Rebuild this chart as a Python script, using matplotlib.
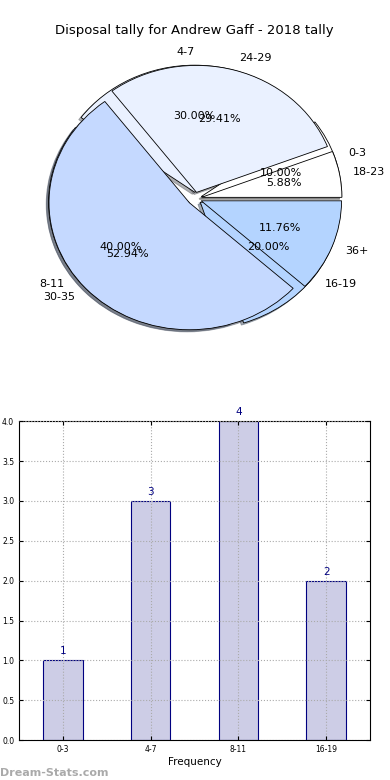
# Disposal tally pie (two seasons overlaid) + frequency bar chart
import matplotlib
matplotlib.use('Agg')
import matplotlib.pyplot as plt

# data
labels_a = ['0-3', '4-7', '8-11', '16-19']
counts_a = [1, 3, 4, 2]
labels_b = ['18-23', '24-29', '30-35', '36+']
counts_b = [1, 5, 9, 2]
bar_labels = ['0-3', '4-7', '8-11', '16-19']
bar_values = [1, 3, 4, 2]

colors = ['#ffffff', '#eaf1ff', '#c5d9ff', '#b4d4ff']
explode = [0.05, 0.05, 0.05, 0.05]

fig = plt.figure(figsize=(3.9, 7.8), dpi=100)

# pie panel
ax1 = fig.add_axes([0.049, 0.542, 0.9, 0.407])
for labs, vals in [(labels_a, counts_a), (labels_b, counts_b)]:
    wedges, texts, autotexts = ax1.pie(vals, labels=labs, colors=colors, explode=explode,
                                       autopct='%1.2f%%', startangle=0,
                                       shadow={'ox': -0.012, 'oy': -0.012, 'shade': 0.6},
                                       wedgeprops=dict(edgecolor='black', linewidth=0.6))
    for t in texts + autotexts:
        t.set_fontsize(8)
ax1.set_aspect('auto')
ax1.set_xlim(-1.25, 1.25)
ax1.set_ylim(-1.25, 1.25)
ax1.set_title('Disposal tally for Andrew Gaff - 2018 tally', fontsize=9.5, pad=4)

# bar panel
ax2 = fig.add_axes([0.049, 0.051, 0.9, 0.409])
x = list(range(len(bar_labels)))
bars = ax2.bar(x, bar_values, width=0.45, color='#cdcde6', edgecolor='#000080', linewidth=0.8)
for xi, v in zip(x, bar_values):
    ax2.text(xi, v + 0.05, str(v), ha='center', va='bottom', color='#000080', fontsize=7.5)
ax2.set_xlim(-0.5, 3.5)
ax2.set_ylim(0, 4)
ax2.set_yticks([0, 0.5, 1, 1.5, 2, 2.5, 3, 3.5, 4])
ax2.set_xticks(x)
ax2.set_xticklabels(bar_labels)
ax2.tick_params(labelsize=5.5, direction='in', top=True, right=True, length=3)
ax2.grid(True, ls=':', color='#aaaaaa', lw=0.8)
ax2.set_axisbelow(False)
ax2.set_xlabel('Frequency', fontsize=7.5, labelpad=2)

fig.text(0.0, 0.003, 'Dream-Stats.com', color='#aaaaaa', fontsize=8, fontweight='bold',
         ha='left', va='bottom')

fig.savefig('out.png', dpi=100)
